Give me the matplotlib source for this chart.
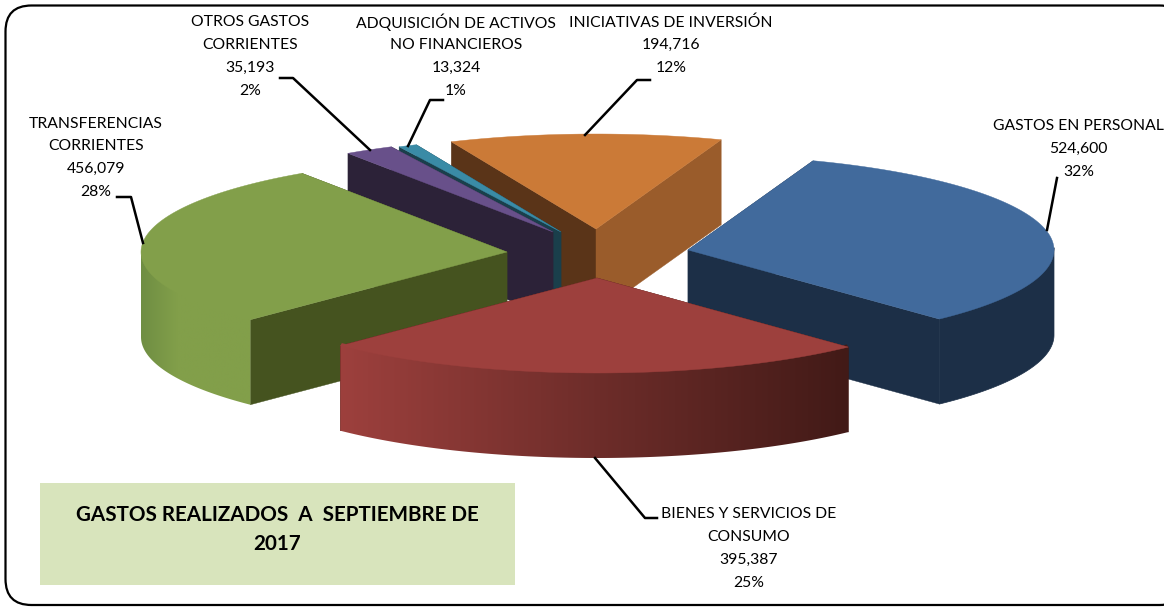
import numpy as np
import matplotlib
matplotlib.use("Agg")
import matplotlib.pyplot as plt
from matplotlib.colors import to_rgb
from matplotlib.patches import FancyBboxPatch, Rectangle, Polygon

# ---- data ----
categories = ["GASTOS EN PERSONAL", "BIENES Y SERVICIOS DE\nCONSUMO", "TRANSFERENCIAS\nCORRIENTES",
              "OTROS GASTOS\nCORRIENTES", "ADQUISICIÓN DE ACTIVOS\nNO FINANCIEROS", "INICIATIVAS DE INVERSIÓN"]
values = [524600, 395387, 456079, 35193, 13324, 194716]
percent_labels = ["32%", "25%", "28%", "2%", "1%", "12%"]
title_text = "GASTOS REALIZADOS  A  SEPTIEMBRE DE\n2017"

# ---- style / layout ----
W, H = 1164, 607
START_ANGLE = 70.0
RX, RY, DEPTH = 366.0, 95.0, 85.0
apex = [(688, 250), (597, 278), (507, 252), (553, 232), (561, 232), (596, 229)]
top_col = ["#416a9c", "#9d403d", "#829f4a", "#68508a", "#3a8ba6", "#cb7a37"]
wall_start = ["#1c2f47", "#43160f", "#45531f", "#2c2238", "#1a3f4b", "#5a3418"]
wall_end = ["#1c2f47", "#43160f", "#45531f", "#2c2238", "#1a3f4b", "#9a5c2b"]
outer_grad = [["#1c2f47", "#1c2f47"],
              ["#9d403d", "#6e2d2a", "#421a17"],
              ["#6f8e43", "#829f4a", "#829f4a", "#829f4a"],
              ["#2c2238", "#2c2238"], ["#1a3f4b", "#1a3f4b"], ["#5a3418", "#5a3418"]]
draw_order = [5, 4, 3, 2, 0, 1]
label_pos = [(1078.5, 125), (749, 513), (96, 122), (250, 21), (456, 21), (671, 21)]
leaders = [[(1057, 178), (1047, 230)],
           [(657, 518), (645, 518), (595, 458)],
           [(117, 197), (131, 197), (143, 243)],
           [(280, 78), (293, 78), (370, 150)],
           [(443, 100), (430, 100), (408, 146)],
           [(650, 80), (637, 80), (585, 135)]]
FONT = "Lato"
LABEL_SIZE = 11.35
LINE_H = 22.7

fig = plt.figure(figsize=(W / 100, H / 100), dpi=100, facecolor="white")
ax = fig.add_axes([0, 0, 1, 1])

# frame
ax.add_patch(FancyBboxPatch((5.5 + 26, 5.5 + 26), 1180 - 52, 599.5 - 52,
                            boxstyle="round,pad=26,rounding_size=26",
                            fc="white", ec="black", lw=1.6, zorder=0))

fractions = np.array(values, dtype=float) / np.sum(values)
sweeps = fractions * 360.0
starts = START_ANGLE - np.concatenate(([0.0], np.cumsum(sweeps)[:-1]))

z = 1
for i in draw_order:
    c = apex[i]
    a = np.linspace(starts[i], starts[i] - sweeps[i], max(int(sweeps[i] * 3), 6))
    xs = c[0] + RX * np.cos(np.radians(a))
    ys = c[1] - RY * np.sin(np.radians(a))

    # radial walls
    for col, px, py in [(wall_start[i], xs[0], ys[0]), (wall_end[i], xs[-1], ys[-1])]:
        ax.fill([c[0], px, px, c[0]], [c[1], py, py + DEPTH, c[1] + DEPTH],
                fc=col, ec=col, lw=0.3, zorder=z)
        z += 1

    # outer wall (front half only), flat or with a horizontal gradient
    front = np.sin(np.radians(a)) <= 0
    if front.sum() > 1:
        fx, fy = xs[front], ys[front]
        # top edge tucked under the top face so no background bleeds through
        tuck = np.full_like(fy, 3.0)
        tuck[0] = tuck[-1] = 0.0
        outline = np.r_[np.c_[fx, fy - tuck], np.c_[fx[::-1], fy[::-1] + DEPTH]]
        if len(set(outer_grad[i])) == 1:
            col = outer_grad[i][0]
            ax.fill(outline[:, 0], outline[:, 1], fc=col, ec=col, lw=0.5, zorder=z)
        else:
            x0, x1 = fx.min(), fx.max()
            stops = np.array([to_rgb(s) for s in outer_grad[i]])
            t = np.linspace(0, 1, 256)
            pos = np.linspace(0, 1, len(stops))
            grad = np.stack([np.interp(t, pos, stops[:, k]) for k in range(3)], axis=-1)[None, :, :]
            im = ax.imshow(grad, extent=(x0, x1, fy.max() + DEPTH, fy.min() - 3), aspect="auto",
                           interpolation="bilinear", zorder=z)
            im.set_clip_path(Polygon(outline, closed=True, transform=ax.transData))
        z += 1

    # top face
    ax.fill(np.r_[c[0], xs], np.r_[c[1], ys], fc=top_col[i], ec=top_col[i], lw=0.3, zorder=z)
    z += 1

ax.set_xlim(0, W)
ax.set_ylim(H, 0)
ax.axis("off")

# leader lines
for pts in leaders:
    p = np.array(pts)
    ax.plot(p[:, 0], p[:, 1], color="black", lw=1.8, solid_joinstyle="round", zorder=50)

# labels
for name, val, pct, (x, y) in zip(categories, values, percent_labels, label_pos):
    lines = name.split("\n") + [f"{val:,}", pct]
    for n, line in enumerate(lines):
        ax.text(x, y + n * LINE_H + 1.5, line, ha="center", va="center", family=FONT,
                fontsize=LABEL_SIZE, color="black", zorder=60)

# title box
ax.add_patch(Rectangle((40, 483), 475, 102, fc="#d8e4bc", ec="none", zorder=55))
for n, line in enumerate(title_text.split("\n")):
    ax.text(277.5, 515 + n * 29, line, ha="center", va="center", family=FONT,
            fontsize=14.85, fontweight="bold", color="black", zorder=60)

fig.savefig("out.png", dpi=100)
